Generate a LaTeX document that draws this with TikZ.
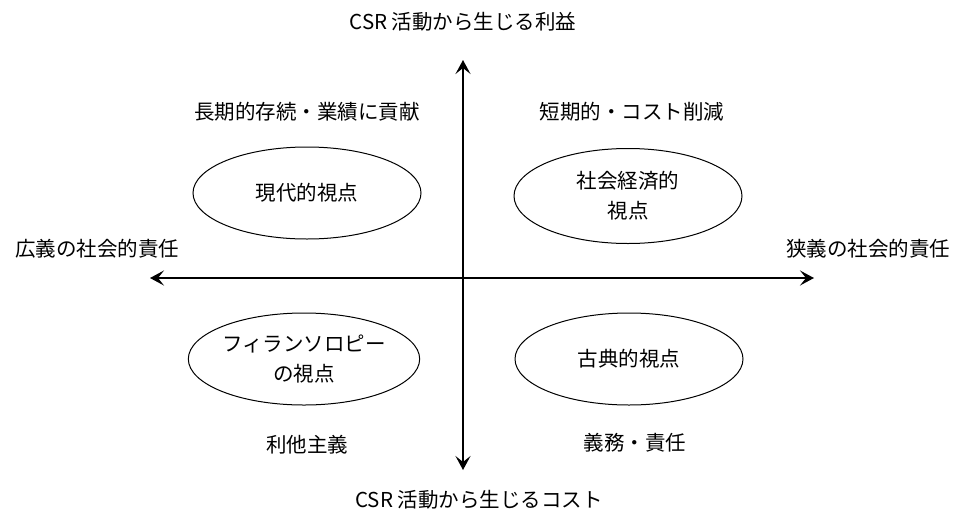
\documentclass[tikz,border=0pt]{standalone}
\usepackage{fontspec}
\setmainfont{Noto Sans CJK JP}
\usetikzlibrary{arrows.meta,shapes.geometric}
\begin{document}
\begin{tikzpicture}[x=1pt,y=-1pt,
  every node/.style={font=\fontsize{20.5}{30}\selectfont,inner sep=0pt},
  axis/.style={line width=2.6pt,
    {Stealth[length=14pt,width=15pt,inset=6pt]}-{Stealth[length=14pt,width=15pt,inset=6pt]}},
  view/.style={ellipse,draw,line width=1pt,minimum width=228pt,minimum height=92pt,align=center}]
\useasboundingbox (0,0) rectangle (958,520);
% axis labels
\node (top) at (463,22) {CSR 活動から生じる利益};
\node (bot) at (479,500) {CSR 活動から生じるコスト};
\node (left) at (97,249) {広義の社会的責任};
\node (right) at (868,249) {狭義の社会的責任};
% axes
\coordinate (n) at (463,60);
\coordinate (s) at (463,470);
\coordinate (w) at (150,278);
\coordinate (e) at (814,278);
\draw[axis] (s) -- (n);
\draw[axis] (w) -- (e);
% quadrant labels
\node (tl) at (307,112) {長期的存続・業績に貢献};
\node (tr) at (632,112) {短期的・コスト削減};
\node (bl) at (307,445) {利他主義};
\node (br) at (635,443) {義務・責任};
% ellipses
\node[view] (modern) at (307,193) {現代的視点};
\node[view,minimum height=95pt] (socio) at (628,196) {社会経済的\\視点};
\node[view] (phil) at (304,359) {フィランソロピー\\の視点};
\node[view] (classic) at (629,359) {古典的視点};
\end{tikzpicture}
\end{document}
